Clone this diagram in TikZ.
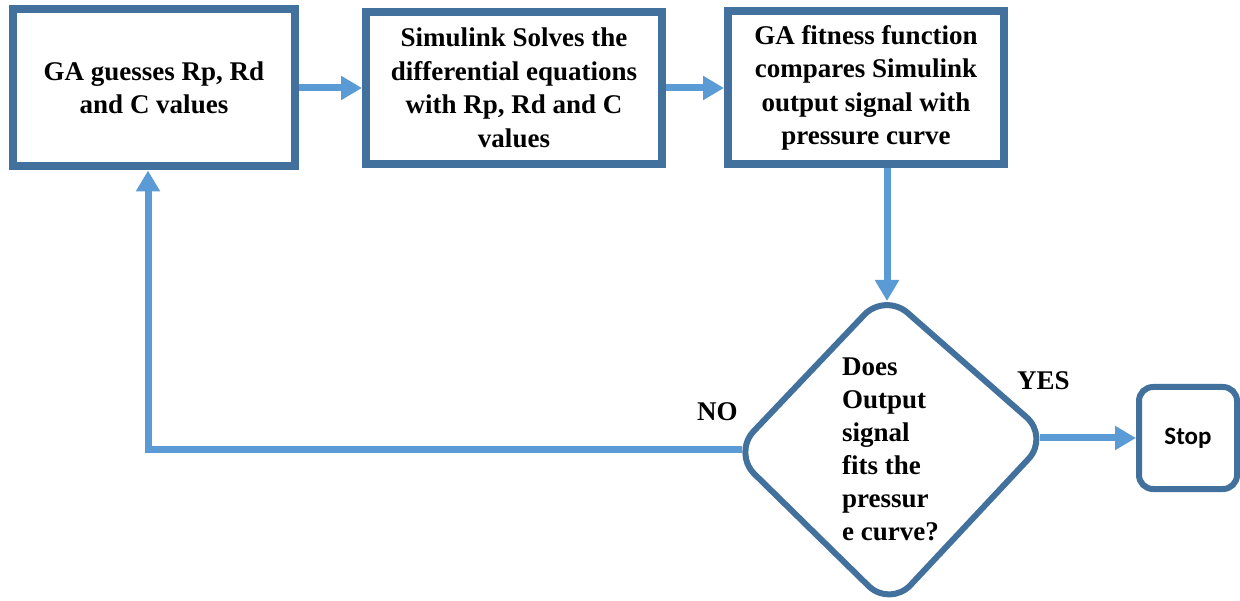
\documentclass[tikz,border=0pt]{standalone}
\usepackage{fontspec}
\setmainfont{Liberation Serif}
\newfontfamily\calfont{Carlito}
\usetikzlibrary{arrows.meta,calc}
\definecolor{bordc}{HTML}{41719C}
\definecolor{arrc}{HTML}{5B9BD5}
\begin{document}
\begin{tikzpicture}[x=1pt,y=-1pt,
  box/.style={draw=bordc,line width=8pt,fill=white,align=center,
    font=\fontsize{27}{33.5}\selectfont\bfseries,inner sep=0pt},
  arr/.style={draw=arrc,line width=7pt,-{Triangle[width=23pt,length=21pt]}},
  lbl/.style={font=\fontsize{27}{33}\selectfont\bfseries,inner sep=0pt}]
\useasboundingbox (0,0) rectangle (1240,601);
\node[box,minimum width=282pt,minimum height=157pt] (b1) at (154,88) {GA guesses Rp, Rd\\and C values};
\node[box,minimum width=296pt,minimum height=152pt] (b2) at (514,88) {Simulink Solves the\\differential equations\\with Rp, Rd and C\\values};
\node[box,minimum width=276pt,minimum height=153pt] (b3) at (866,88) {GA fitness function\\compares Simulink\\output signal with\\pressure curve};
\node[draw=bordc,line width=6pt,rounded corners=14pt,minimum width=98pt,minimum height=102pt,
  font=\calfont\bfseries\fontsize{25}{30}\selectfont] (stop) at (1188,438) {Stop};
\draw[draw=bordc,line width=6pt,rounded corners=30pt,fill=white]
  (885,293) -- (1049,437) -- (890,607) -- (733,453) -- cycle;
\node[lbl,align=left,anchor=north west] (dq) at (842,358) {Does\\Output\\signal\\fits the\\pressur\\e curve?};
\node[lbl,anchor=base west] (yes) at (1017,390) {YES};
\node[lbl,anchor=base west] (no) at (697,421) {NO};
\coordinate (dtop) at (887,301);
\coordinate (dleft) at (742,450);
\coordinate (dright) at (1040,438);
\coordinate (fbx) at (148,0);
\draw[arr] (b1.east) -- (b2.west);
\draw[arr] (b2.east) -- (b3.west);
\draw[arr] (b3.south -| dtop) -- (dtop);
\draw[arr] (dright) -- (stop.west);
\draw[arr] (dleft) -| (fbx |- b1.south);
\end{tikzpicture}
\end{document}
